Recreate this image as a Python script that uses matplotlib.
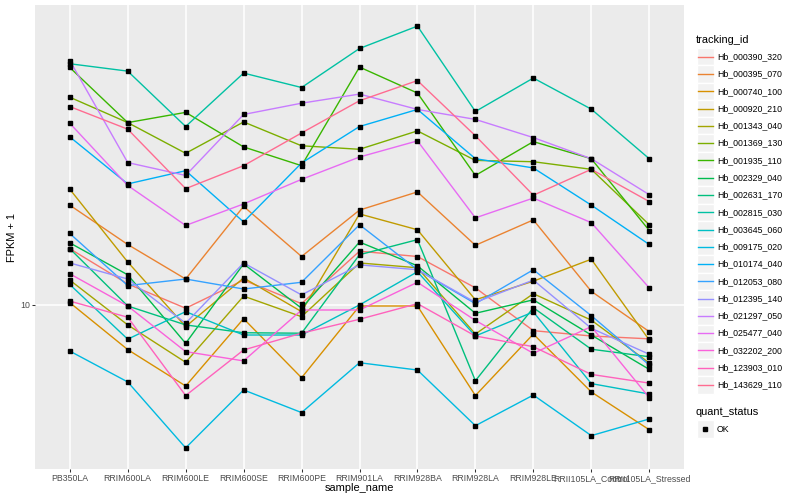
import matplotlib
matplotlib.use("Agg")
import matplotlib.pyplot as plt
from matplotlib.patches import Rectangle
from matplotlib.lines import Line2D
from matplotlib.ticker import FixedLocator, FixedFormatter, NullLocator
import numpy as np

plt.rcParams['font.family'] = ['Liberation Sans', 'DejaVu Sans']

samples = ["PB350LA", "RRIM600LA", "RRIM600LE", "RRIM600SE", "RRIM600PE",
           "RRIM901LA", "RRIM928BA", "RRIM928LA", "RRIM928LE",
           "RRII105LA_Control", "RRII105LA_Stressed"]

# FPKM + 1 per tracking id (one value per sample)
hb_000390_320 = [15.4, 11.75, 9.75, 12.1, 10.1, 15.1, 14.5, 11.4, 8.21, 7.88, 7.71]
hb_000395_070 = [21.5, 15.9, 12.2, 21.3, 14.5, 20.7, 23.8, 15.8, 19.2, 11.1, 8.15]
hb_000740_100 = [10.18, 7.10, 5.37, 9.00, 5.72, 9.92, 9.92, 4.99, 8.00, 5.13, 3.84]
hb_000920_210 = [24.3, 13.9, 8.47, 12.3, 9.50, 20.1, 17.8, 10.4, 12.0, 14.2, 7.64]
hb_001343_040 = [12.1, 8.58, 6.44, 10.7, 9.14, 13.8, 13.3, 8.00, 10.9, 8.90, 6.41]
hb_001369_130 = [49.2, 40.5, 32.0, 40.7, 33.9, 33.0, 38.0, 30.3, 30.0, 28.3, 18.5]
hb_001935_110 = [61.8, 40.5, 43.8, 33.6, 29.1, 62.0, 50.8, 27.0, 35.0, 30.7, 17.7]
hb_002329_040 = [16.1, 12.6, 7.45, 13.7, 9.75, 16.2, 13.5, 9.38, 10.4, 7.94, 6.10]
hb_002631_170 = [15.4, 9.92, 8.58, 8.08, 8.05, 14.7, 16.5, 5.59, 9.79, 7.12, 6.72]
hb_002815_030 = [63.6, 60.1, 39.3, 59.2, 53.0, 71.5, 84.9, 44.1, 57.0, 44.9, 30.7]
hb_003645_060 = [11.7, 7.69, 9.50, 7.94, 7.94, 10.0, 12.9, 7.88, 9.48, 5.47, 5.05]
hb_009175_020 = [7.02, 5.54, 3.34, 5.21, 4.38, 6.42, 6.07, 3.96, 5.01, 3.67, 4.17]
hb_010174_040 = [36.3, 25.3, 28.0, 18.9, 29.7, 39.3, 44.8, 30.7, 28.6, 21.5, 15.9]
hb_012053_080 = [17.3, 11.6, 12.2, 11.3, 11.9, 18.5, 13.1, 10.1, 13.1, 9.21, 6.31]
hb_012395_140 = [13.8, 12.2, 8.69, 13.8, 10.8, 13.6, 13.1, 10.2, 12.1, 8.36, 6.85]
hb_021297_050 = [65.2, 29.8, 27.0, 43.1, 47.0, 50.4, 44.8, 41.5, 36.1, 30.7, 23.3]
hb_025477_040 = [40.3, 25.0, 18.4, 21.7, 26.2, 31.1, 35.2, 19.5, 22.7, 18.8, 11.4]
hb_032202_200 = [12.7, 9.92, 6.99, 6.51, 9.62, 9.62, 11.9, 8.88, 6.90, 8.47, 4.91]
hb_123903_010 = [10.3, 9.10, 4.99, 7.08, 8.05, 8.96, 10.1, 7.88, 7.26, 5.87, 5.49]
hb_143629_110 = [45.8, 38.5, 24.4, 29.1, 37.4, 47.9, 55.9, 36.6, 23.2, 28.3, 22.1]

tracking_ids = ["Hb_000390_320", "Hb_000395_070", "Hb_000740_100", "Hb_000920_210",
                "Hb_001343_040", "Hb_001369_130", "Hb_001935_110", "Hb_002329_040",
                "Hb_002631_170", "Hb_002815_030", "Hb_003645_060", "Hb_009175_020",
                "Hb_010174_040", "Hb_012053_080", "Hb_012395_140", "Hb_021297_050",
                "Hb_025477_040", "Hb_032202_200", "Hb_123903_010", "Hb_143629_110"]
series = [hb_000390_320, hb_000395_070, hb_000740_100, hb_000920_210,
          hb_001343_040, hb_001369_130, hb_001935_110, hb_002329_040,
          hb_002631_170, hb_002815_030, hb_003645_060, hb_009175_020,
          hb_010174_040, hb_012053_080, hb_012395_140, hb_021297_050,
          hb_025477_040, hb_032202_200, hb_123903_010, hb_143629_110]
colors = ["#F8766D", "#EA8331", "#D89000", "#C09B00", "#A3A500", "#7CAE00", "#39B600",
          "#00BB4E", "#00BF7D", "#00C1A3", "#00BFC4", "#00BAE0", "#00B0F6", "#35A2FF",
          "#9590FF", "#C77CFF", "#E76BF3", "#FA62DB", "#FF62BC", "#FF6C91"]

W, H = 800, 500
PX = 0.72  # points per pixel at dpi 100 (ggplot sizes are px at 72 dpi)

fig = plt.figure(figsize=(8, 5), dpi=100)
fig.patch.set_facecolor("white")
ax = fig.add_axes([35 / W, 1 - 469 / H, (684 - 35) / W, (469 - 5) / H])
ax.set_facecolor("#EBEBEB")
for s in ax.spines.values():
    s.set_visible(False)

x = np.arange(len(samples))
for vals, col in zip(series, colors):
    ax.plot(x, vals, color=col, lw=1.0, solid_capstyle="butt", zorder=2)
for vals in series:
    ax.plot(x, vals, ls="none", marker="s", ms=2.6, color="black", zorder=3)

ax.set_yscale("log")
allv = np.concatenate([np.array(v) for v in series])
lo, hi = np.log10(allv.min()), np.log10(allv.max())
pad = 0.05 * (hi - lo)
ax.set_ylim(10 ** (lo - pad), 10 ** (hi + pad))
ax.set_xlim(-0.6, len(samples) - 0.4)

ax.yaxis.set_major_locator(FixedLocator([10]))
ax.yaxis.set_major_formatter(FixedFormatter(["10"]))
ax.yaxis.set_minor_locator(NullLocator())
ax.set_xticks(x)
ax.set_xticklabels(samples)
ax.grid(True, which="major", color="white", lw=1.1)
ax.set_axisbelow(True)
ax.tick_params(axis="both", length=2.75 * PX, width=0.75, color="#333333",
               labelsize=8.8 * PX, labelcolor="#4D4D4D", pad=2.2 * PX)

fig.text(359.5 / W, 1 - 488 / H, "sample_name", ha="center", va="center",
         fontsize=11 * PX, color="black")
fig.text(12 / W, 1 - 237 / H, "FPKM + 1", ha="center", va="center",
         rotation=90, fontsize=11 * PX, color="black")


def fx(px):
    return px / W


def fy(py):
    return 1 - py / H


# legend: tracking_id
fig.text(fx(696), fy(40), "tracking_id", ha="left", va="center", fontsize=11 * PX)
step = 17.28
for i, (name, col) in enumerate(zip(tracking_ids, colors)):
    yc = 56.7 + i * step
    fig.add_artist(Rectangle((fx(696.5), fy(yc + step / 2)), 17.28 / W, step / H,
                             transform=fig.transFigure, facecolor="#F2F2F2",
                             edgecolor="white", lw=1))
    fig.add_artist(Line2D([fx(698), fx(712.5)], [fy(yc), fy(yc)], color=col, lw=1.0,
                          transform=fig.transFigure))
    fig.text(fx(717), fy(yc), name, ha="left", va="center", fontsize=8.8 * PX)

# legend: quant_status
fig.text(fx(696), fy(412), "quant_status", ha="left", va="center", fontsize=11 * PX)
fig.add_artist(Rectangle((fx(696.5), fy(429 + step / 2)), 17.28 / W, step / H,
                         transform=fig.transFigure, facecolor="#F2F2F2",
                         edgecolor="white", lw=1))
fig.add_artist(Line2D([fx(705)], [fy(429)], ls="none", marker="s", ms=2.6,
                      color="black", transform=fig.transFigure))
fig.text(fx(717), fy(429), "OK", ha="left", va="center", fontsize=8.8 * PX)

fig.savefig("out.png", dpi=100)
